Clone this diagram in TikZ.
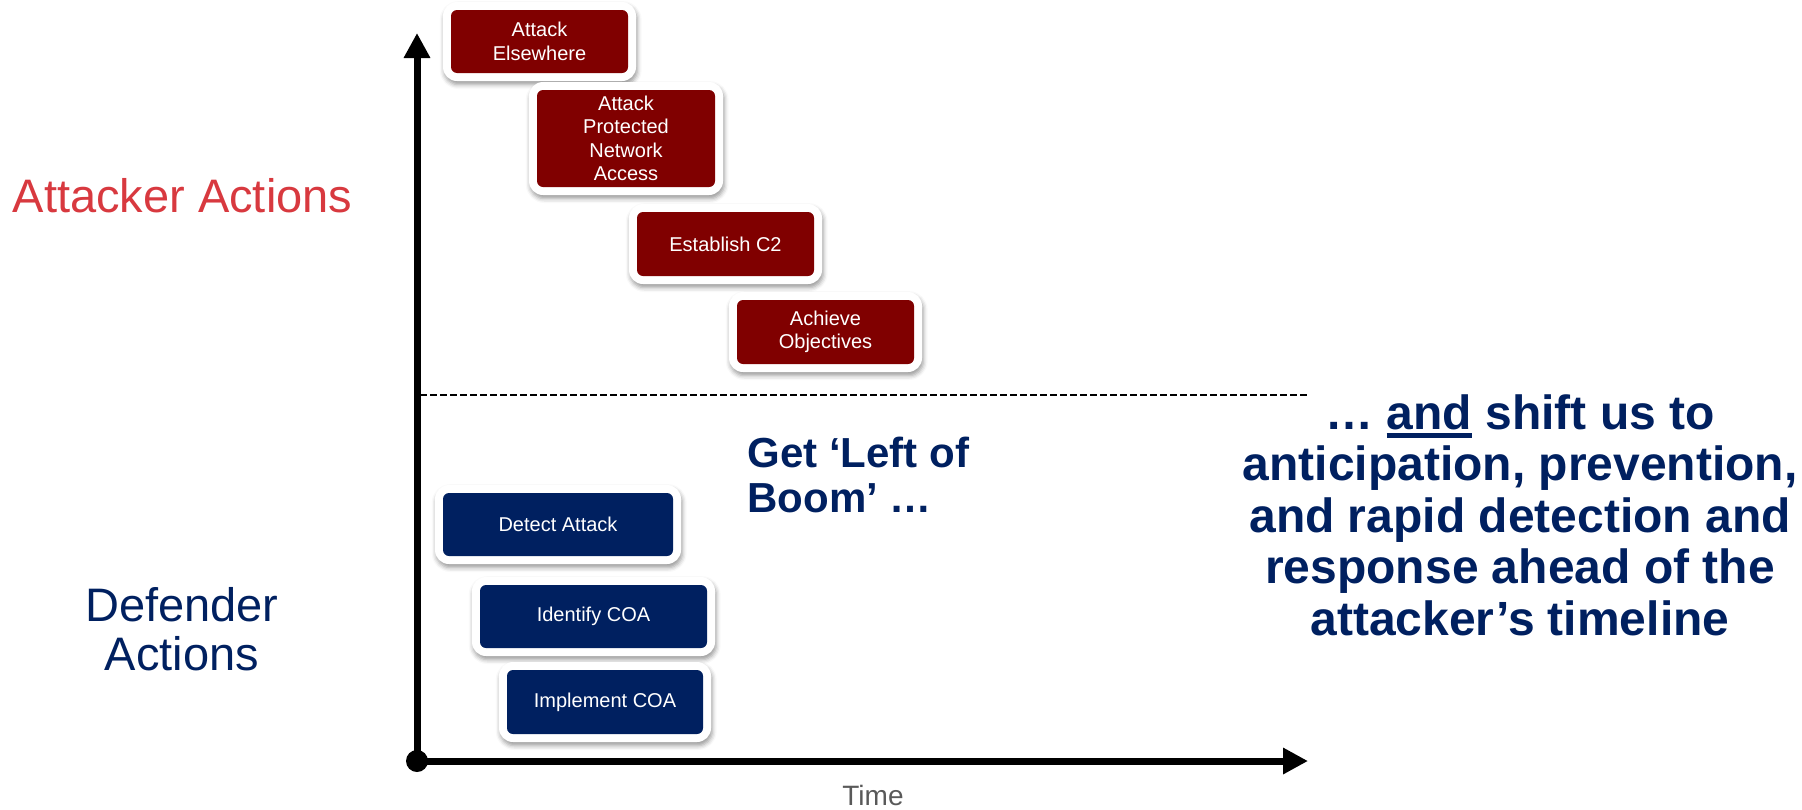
\documentclass[tikz,border=0pt]{standalone}
\usepackage{fontspec}
\setmainfont{Liberation Sans}
\usetikzlibrary{arrows.meta,shadows.blur}

\definecolor{cardred}{HTML}{800000}
\definecolor{navy}{HTML}{002060}
\definecolor{attackred}{HTML}{D8393F}
\definecolor{timegray}{HTML}{595959}

% underline with a heavy bar, as used in the headline text
\newcommand\heavyul[1]{\setbox0\hbox{#1}\rlap{\rule[-4.5pt]{\wd0}{2.5pt}}#1}

\begin{document}
\begin{tikzpicture}[x=0.5pt,y=-0.5pt,
  % white framed card with a dark inner panel and a soft shadow
  card/.style={fill=white, rounded corners=7pt, inner sep=0pt,
    align=center, text=white, font=\fontsize{10}{11.75}\selectfont,
    blur shadow={shadow xshift=0.6pt, shadow yshift=-1.8pt,
      shadow blur radius=2.2pt, shadow opacity=40},
    path picture={\fill[#1, rounded corners=3pt]
      ([xshift=4pt,yshift=4pt]path picture bounding box.south west) rectangle
      ([xshift=-4pt,yshift=-4pt]path picture bounding box.north east);}},
  attackcard/.style={card=cardred},
  defendcard/.style={card=navy},
  axis/.style={line width=3.5pt, -{Triangle[width=12.5pt,length=12.5pt]}},
  divider/.style={line width=0.75pt, dash pattern=on 3.5pt off 1.5pt},
  lanelabel/.style={font=\fontsize{23.5}{24.5}\selectfont, align=center, inner sep=0pt},
  headline/.style={font=\bfseries, text=navy, inner sep=0pt}
]
\useasboundingbox (0,0) rectangle (1802,809);

% axes
\coordinate (origin) at (417,761);
\coordinate (ytop) at (417,33);
\coordinate (xend) at (1308,761);
\draw[axis] (origin) -- (ytop);
\draw[axis] (origin) -- (xend);
\fill (origin) circle[radius=5.5pt];
\node[font=\fontsize{14}{16}\selectfont, text=timegray, anchor=base, inner sep=0pt]
  (time) at (873,805) {Time};

% boundary between the two lanes
\coordinate (divl) at (420,395);
\coordinate (divr) at (1307,395);
\draw[divider] (divl) -- (divr);

% lane labels (multi-line nodes are placed by their last baseline)
\node[lanelabel, text=attackred, anchor=base] (attacker) at (182.5,212) {Attacker Actions};
\node[lanelabel, text=navy, anchor=base] (defender) at (182,670) {Defender\\Actions};

% attacker steps
\node[attackcard, minimum width=96.5pt, minimum height=39.5pt] (elsewhere) at (539.5,41.5) {Attack\\Elsewhere};
\node[attackcard, minimum width=97pt, minimum height=56.5pt] (protected) at (626,138.5) {Attack\\Protected\\Network\\Access};
\node[attackcard, minimum width=96.5pt, minimum height=40pt] (c2) at (725.5,244) {Establish C2};
\node[attackcard, minimum width=96.5pt, minimum height=40pt] (objectives) at (825.5,332) {Achieve\\Objectives};

% defender steps
\node[defendcard, minimum width=123pt, minimum height=39.5pt] (detect) at (558,524.5) {Detect Attack};
\node[defendcard, minimum width=121.5pt, minimum height=39.5pt] (identify) at (593.5,616.5) {Identify COA};
\node[defendcard, minimum width=106pt, minimum height=40pt] (implement) at (605,702) {Implement COA};

% messages
\node[headline, align=left, anchor=base west, font=\bfseries\fontsize{21}{22.5}\selectfont]
  (boom) at (747,512) {Get ‘Left of\\Boom’ …};
\node[headline, align=center, anchor=base, font=\bfseries\fontsize{24}{25.75}\selectfont]
  (shift) at (1520,635) {… \heavyul{and} shift us to\\anticipation, prevention,\\and rapid detection and\\response ahead of the\\attacker’s timeline};
\end{tikzpicture}
\end{document}
